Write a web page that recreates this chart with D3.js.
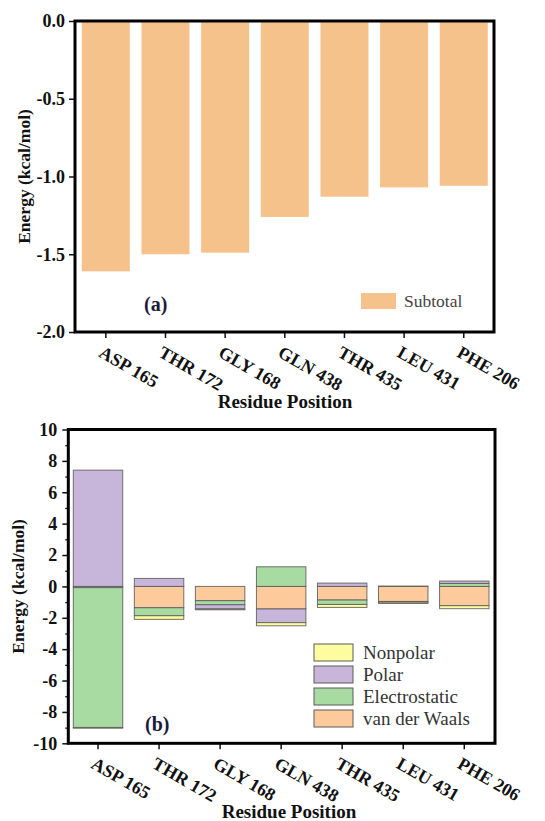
<!DOCTYPE html>
<html>
<head>
<meta charset="utf-8">
<script src="https://cdn.jsdelivr.net/npm/d3@7"></script>
<style>
  body { margin: 0; background: #fff; }
  svg { display: block; font-family: "Liberation Serif", "DejaVu Serif", serif; }
  .tick text { font-weight: bold; fill: #111; }
</style>
</head>
<body>
<svg id="chart" width="545" height="821"></svg>
<script>
const residues = ["ASP 165", "THR 172", "GLY 168", "GLN 438", "THR 435", "LEU 431", "PHE 206"];
// panel (a) total per residue
const subtotal = [-1.61, -1.50, -1.49, -1.26, -1.13, -1.07, -1.06];
// panel (b) components
const vdw = [-0.08, -1.36, -0.91, -1.44, -0.87, -0.96, -1.23];
const electrostatic = [-8.91, -0.51, -0.26, 1.25, -0.28, -0.05, 0.19];
const polar = [7.41, 0.51, -0.27, -0.87, 0.21, 0.02, 0.15];
const nonpolar = [-0.05, -0.23, -0.05, -0.20, -0.19, -0.08, -0.19];

const yTicksA = [0, -0.5, -1.0, -1.5, -2.0];
const yTicksB = [10, 8, 6, 4, 2, 0, -2, -4, -6, -8, -10];
const yMinorB = [9, 7, 5, 3, 1, -1, -3, -5, -7, -9];

const series = [
  { key: "vdw", label: "van der Waals", color: "#fdca9b", values: vdw },
  { key: "elec", label: "Electrostatic", color: "#a7dba1", values: electrostatic },
  { key: "polar", label: "Polar", color: "#c7b6da", values: polar },
  { key: "nonpolar", label: "Nonpolar", color: "#fdfc9f", values: nonpolar },
];

const svg = d3.select("#chart");

const drawXLabels = (g, x, y0) => {
  g.selectAll(".xlab")
    .data(residues)
    .join("text")
    .attr("class", "xlab")
    .attr("transform", (d) => `translate(${x(d) + x.bandwidth() / 2 - 8}, ${y0 + 24}) rotate(30)`)
    .attr("font-size", 18)
    .attr("font-weight", "bold")
    .attr("fill", "#111")
    .text((d) => d);
};

const renderBar = () => {
  const left = 75, right = 494, top = 21, bottom = 332;
  const g = svg.append("g");

  const x = d3.scaleBand().domain(residues).range([76, 493.6]).paddingInner(0.195).paddingOuter(0.0975);
  const y = d3.scaleLinear().domain([-2, 0]).range([bottom, top]);

  g.selectAll(".bar")
    .data(residues)
    .join("rect")
    .attr("class", "bar")
    .attr("x", (d) => x(d))
    .attr("width", x.bandwidth())
    .attr("y", y(0))
    .attr("height", (d, i) => y(subtotal[i]) - y(0))
    .attr("fill", "#f6c28b");

  g.append("g")
    .attr("transform", `translate(${left},0)`)
    .call(d3.axisLeft(y).tickValues(yTicksA).tickSize(6).tickPadding(4).tickFormat((d) => d.toFixed(1)))
    .call((a) => a.select(".domain").remove())
    .call((a) => a.selectAll("line").attr("stroke", "#111").attr("stroke-width", 1.5))
    .call((a) => a.selectAll("text").attr("font-size", 18).attr("font-family", "Liberation Serif"));

  g.append("g")
    .attr("transform", `translate(0,${bottom})`)
    .call(d3.axisBottom(x).tickSize(6).tickFormat(""))
    .call((a) => a.select(".domain").remove())
    .call((a) => a.selectAll("line").attr("stroke", "#111").attr("stroke-width", 1.5));

  g.append("rect")
    .attr("x", left).attr("y", top)
    .attr("width", right - left).attr("height", bottom - top)
    .attr("fill", "none").attr("stroke", "#000").attr("stroke-width", 3);

  drawXLabels(g, x, bottom);

  g.append("text")
    .attr("x", 285).attr("y", 408)
    .attr("text-anchor", "middle").attr("font-size", 19).attr("font-weight", "bold").attr("fill", "#111")
    .text("Residue Position");

  g.append("text")
    .attr("transform", `translate(30, ${(top + bottom) / 2}) rotate(-90)`)
    .attr("text-anchor", "middle").attr("font-size", 17.5).attr("font-weight", "bold").attr("fill", "#111")
    .text("Energy (kcal/mol)");

  g.append("text")
    .attr("x", 144).attr("y", 311)
    .attr("font-size", 20).attr("font-weight", "bold").attr("fill", "#1c1c3a")
    .text("(a)");

  g.append("rect")
    .attr("x", 361).attr("y", 293).attr("width", 35).attr("height", 16)
    .attr("fill", "#f6c28b");
  g.append("text")
    .attr("x", 404).attr("y", 307)
    .attr("font-size", 17.5).attr("fill", "#444")
    .text("Subtotal");
};

const renderStack = () => {
  const left = 68.3, right = 495, top = 429.5, bottom = 743.3;
  const g = svg.append("g");

  const x = d3.scaleBand().domain(residues).range([67.5, 494.8]).paddingInner(0.19).paddingOuter(0.095);
  const y = d3.scaleLinear().domain([-10, 10]).range([bottom, top]);

  const rows = residues.map((r, i) => {
    const row = { residue: r };
    series.forEach((s) => (row[s.key] = s.values[i]));
    return row;
  });
  const stacked = d3.stack()
    .keys(series.map((s) => s.key))
    .offset(d3.stackOffsetDiverging)(rows);

  const layer = g.append("g")
    .selectAll("g")
    .data(stacked)
    .join("g")
    .attr("fill", (d, i) => series[i].color);

  layer.selectAll("rect")
    .data((d) => d)
    .join("rect")
    .attr("x", (d) => x(d.data.residue))
    .attr("width", x.bandwidth())
    .attr("y", (d) => y(Math.max(d[0], d[1])))
    .attr("height", (d) => Math.abs(y(d[0]) - y(d[1])))
    .attr("stroke", "#5a5a5a")
    .attr("stroke-opacity", 0.85)
    .attr("stroke-width", 1);

  g.append("g")
    .attr("transform", `translate(${left},0)`)
    .call(d3.axisLeft(y).tickValues(yMinorB).tickSize(3).tickFormat(""))
    .call((a) => a.select(".domain").remove())
    .call((a) => a.selectAll("line").attr("stroke", "#111").attr("stroke-width", 1.3));

  g.append("g")
    .attr("transform", `translate(${left},0)`)
    .call(d3.axisLeft(y).tickValues(yTicksB).tickSize(6).tickPadding(5).tickFormat((d) => String(d)))
    .call((a) => a.select(".domain").remove())
    .call((a) => a.selectAll("line").attr("stroke", "#111").attr("stroke-width", 1.5))
    .call((a) => a.selectAll("text").attr("font-size", 18).attr("font-family", "Liberation Serif"));

  g.append("g")
    .attr("transform", `translate(0,${bottom})`)
    .call(d3.axisBottom(x).tickSize(6).tickFormat(""))
    .call((a) => a.select(".domain").remove())
    .call((a) => a.selectAll("line").attr("stroke", "#111").attr("stroke-width", 1.5));

  g.append("rect")
    .attr("x", left).attr("y", top)
    .attr("width", right - left).attr("height", bottom - top)
    .attr("fill", "none").attr("stroke", "#000").attr("stroke-width", 3);

  drawXLabels(g, x, bottom);

  g.append("text")
    .attr("x", 289).attr("y", 818)
    .attr("text-anchor", "middle").attr("font-size", 19).attr("font-weight", "bold").attr("fill", "#111")
    .text("Residue Position");

  g.append("text")
    .attr("transform", `translate(24, ${(top + bottom) / 2}) rotate(-90)`)
    .attr("text-anchor", "middle").attr("font-size", 17.5).attr("font-weight", "bold").attr("fill", "#111")
    .text("Energy (kcal/mol)");

  g.append("text")
    .attr("x", 145).attr("y", 731)
    .attr("font-size", 20).attr("font-weight", "bold").attr("fill", "#1c1c3a")
    .text("(b)");

  // legend: listed top to bottom in reverse stack order
  const legend = g.append("g")
    .selectAll("g")
    .data(series.slice().reverse())
    .join("g")
    .attr("transform", (d, i) => `translate(314, ${644 + i * 22})`);

  legend.append("rect")
    .attr("width", 39).attr("height", 17)
    .attr("fill", (d) => d.color)
    .attr("stroke", "#5a5a5a").attr("stroke-width", 1);

  legend.append("text")
    .attr("x", 49).attr("y", 14.5)
    .attr("font-size", 19).attr("fill", "#333")
    .text((d) => d.label);
};

renderBar();
renderStack();
</script>
</body>
</html>
